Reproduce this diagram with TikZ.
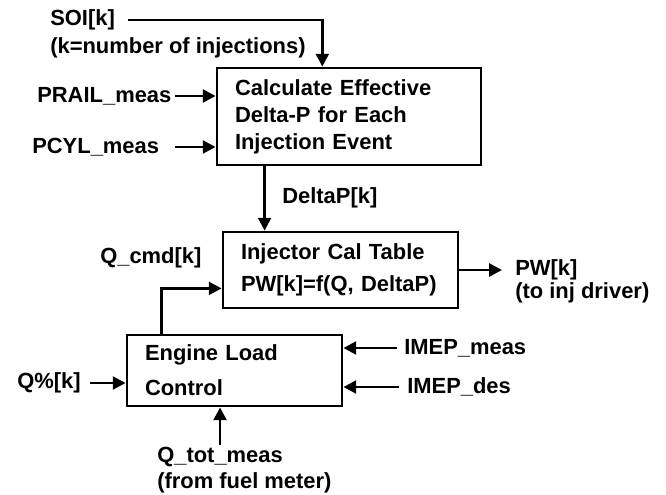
\documentclass[tikz,border=0pt]{standalone}
\usepackage{fontspec}
\setmainfont{Liberation Sans}
\usetikzlibrary{arrows.meta, calc}

\begin{document}
\begin{tikzpicture}

% Bold sans text
\bfseries
\fontsize{15.6}{19.2}\selectfont

% Block, signal and arrow styles
\tikzset{blk/.style={draw, line width = 2pt, inner xsep = 0.45cm, inner ysep = 0pt, align = left}}
\tikzset{sig/.style={inner sep = 0pt, anchor = west}}
\tikzset{sigA/.style={line width = 2pt, -{Triangle[length = 0.32cm, width = 0.32cm]}}}

\useasboundingbox (0,0) rectangle (16.65,12.35);

% Blocks
\node (calc) [blk, text width = 5.7cm, minimum height = 2.425cm, font = \fontsize{15.6}{19.2}\selectfont] at (8.725, 9.4375) {Calculate Effective\\Delta-P for Each\\Injection Event};
\node (inj) [blk, text width = 4.975cm, minimum height = 1.9cm, font = \fontsize{15.6}{22.8}\selectfont] at (8.5125, 5.6) {Injector Cal Table\\PW[k]=f(Q, DeltaP)};
\node (eng) [blk, text width = 4.475cm, minimum height = 1.775cm, font = \fontsize{15.6}{25}\selectfont] at (5.8625, 3.0875) {Engine Load\\Control};

% Signal labels
\node (soi) [sig] at (1.25, 11.85) {SOI[k]};
\node (soin) [sig] at (1.25, 11.15) {(k=number of injections)};
\node (prail) [sig] at (0.925, 9.95) {PRAIL\_meas};
\node (pcyl) [sig] at (0.8, 8.675) {PCYL\_meas};
\node (dpl) [sig] at (7.05, 7.4) {DeltaP[k]};
\node (qcmd) [sig] at (2.5, 5.9) {Q\_cmd[k]};
\node (pw) [sig] at (12.875, 5.6) {PW[k]};
\node (pwn) [sig] at (12.875, 5.025) {(to inj driver)};
\node (imepm) [sig] at (10.1, 3.65) {IMEP\_meas};
\node (imepd) [sig] at (10.175, 2.675) {IMEP\_des};
\node (qpct) [sig] at (0.425, 2.775) {Q\%[k]};
\node (qtot) [sig] at (3.925, 0.925) {Q\_tot\_meas};
\node (qtotn) [sig] at (3.925, 0.275) {(from fuel meter)};

% Branch points
\coordinate (soiin) at ($ (calc.north west)!0.4!(calc.north east) $);
\coordinate (dpout) at ($ (calc.south west) + (1.225, 0) $);
\coordinate (qout) at ($ (eng.north west) + (0.9, 0) $);
\coordinate (qin) at ($ (inj.south west) + (0, 0.525) $);

% Arrows
\draw[sigA] ([xshift = 0.325cm]soi.east) -| (soiin);
\draw[sigA] ([xshift = 0.075cm]prail.east) -- (prail.east -| calc.west);
\draw[sigA] ([xshift = 0.4cm]pcyl.east) -- (pcyl.east -| calc.west);

\draw[sigA] (dpout) -- (dpout |- inj.north);
\draw[sigA] (qout) |- (qin);
\draw[sigA] (inj.east) -- ([xshift = -0.325cm]pw.west);

\draw[sigA] ([xshift = -0.175cm]imepm.west) -- (imepm.west -| eng.east);
\draw[sigA] ([xshift = -0.2cm]imepd.west) -- (imepd.west -| eng.east);
\draw[sigA] ([xshift = 0.225cm]qpct.east) -- (qpct.east -| eng.west);
\draw[sigA] ([yshift = 0.05cm]qtot.north) -- (qtot.north |- eng.south);

\end{tikzpicture}
\end{document}
